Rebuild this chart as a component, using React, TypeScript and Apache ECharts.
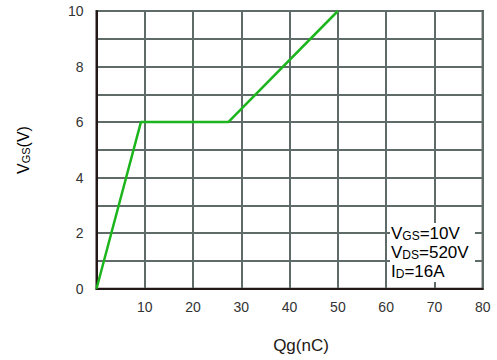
import React, { useEffect, useRef } from "react";
import * as echarts from "echarts";

const qg = [0, 9.2, 27.3, 50];
const vgs = [0, 6, 6, 10];
const xTicks = [0, 10, 20, 30, 40, 50, 60, 70, 80];
const yTicks = [0, 1, 2, 3, 4, 5, 6, 7, 8, 9, 10];
const noteLines = [
  ["V", "GS", "=10V"],
  ["V", "DS", "=520V"],
  ["I", "D", "=16A"],
];

const FONT = "Liberation Sans, Arial, sans-serif";
const DARK = "#231815";
const GRID = "#5f6b69";

export default function App() {
  const ref = useRef<HTMLDivElement>(null);
  useEffect(() => {
    document.body.style.margin = "0";
    if (!ref.current) return;
    const chart = echarts.init(ref.current, undefined, { renderer: "svg" });
    const richStyles = {
      v: { fontSize: 17, fontFamily: FONT, color: DARK, lineHeight: 19, verticalAlign: "bottom" },
      s: { fontSize: 12, fontFamily: FONT, color: DARK, lineHeight: 14, verticalAlign: "bottom" },
    };
    const note = noteLines.map((l) => `{v|${l[0]}}{s|${l[1]}}{v|${l[2]}}`).join("\n");
    chart.setOption({
      animation: false,
      grid: {
        left: 96.5,
        top: 11,
        right: 14.3,
        bottom: 71.3,
        show: true,
        borderColor: DARK,
        borderWidth: 2,
        backgroundColor: "transparent",
      },
      xAxis: {
        type: "value",
        min: xTicks[0],
        max: xTicks[xTicks.length - 1],
        interval: 10,
        axisLine: { show: true, lineStyle: { color: DARK, width: 2 } },
        axisTick: { show: false },
        splitLine: { show: true, lineStyle: { color: GRID, width: 2 } },
        axisLabel: {
          margin: 11,
          fontSize: 14,
          fontFamily: FONT,
          color: "#333",
          formatter: (v: number) => (v === 0 ? "" : String(v)),
        },
      },
      yAxis: {
        type: "value",
        min: yTicks[0],
        max: yTicks[yTicks.length - 1],
        interval: 1,
        axisLine: { show: true, lineStyle: { color: DARK, width: 2 } },
        axisTick: { show: false },
        splitLine: { show: true, lineStyle: { color: GRID, width: 2 } },
        axisLabel: {
          margin: 13,
          fontSize: 14,
          fontFamily: FONT,
          color: "#333",
          formatter: (v: number) => (v % 2 === 0 ? String(v) : ""),
        },
      },
      series: [
        {
          type: "line",
          data: qg.map((x, i) => [x, vgs[i]]),
          showSymbol: false,
          lineStyle: { color: "#1db51d", width: 2.5 },
          z: 5,
        },
      ],
      graphic: [
        {
          type: "rect",
          shape: { x: 390, y: 223, width: 85, height: 59 },
          style: { fill: "#fff" },
          z: 10,
        },
        {
          type: "text",
          x: 391,
          y: 223,
          z: 11,
          style: { text: note, rich: richStyles, fontFamily: FONT },
        },
        {
          type: "text",
          x: 22,
          y: 150,
          rotation: Math.PI / 2,
          z: 11,
          style: {
            text: "{v|V}{s|GS}{v|(V)}",
            rich: {
              v: { fontSize: 16, fontFamily: FONT, color: DARK, lineHeight: 18, verticalAlign: "bottom" },
              s: { fontSize: 11, fontFamily: FONT, color: DARK, lineHeight: 13, verticalAlign: "bottom" },
            },
            align: "center",
            verticalAlign: "middle",
          },
        },
        {
          type: "text",
          x: 301,
          y: 345,
          z: 11,
          style: {
            text: "Qg(nC)",
            fontSize: 17,
            fontFamily: FONT,
            fill: DARK,
            align: "center",
            verticalAlign: "middle",
          },
        },
      ],
    });
    return () => chart.dispose();
  }, []);
  return <div ref={ref} style={{ width: 497, height: 360 }} />;
}
